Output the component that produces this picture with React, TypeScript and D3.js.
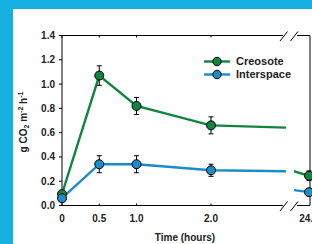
import React from "react";
import { scaleLinear, line } from "d3";

// time points (hours) and mean flux values
const times = [0, 0.5, 1.0, 2.0, 24];
const creosote = [0.095, 1.07, 0.82, 0.66, 0.245];
const creosoteErr = [0.02, 0.08, 0.07, 0.07, 0.04];
const interspace = [0.06, 0.34, 0.34, 0.29, 0.11];
const interspaceErr = [0.01, 0.07, 0.07, 0.05, 0.02];

const yTicks = [0, 0.2, 0.4, 0.6, 0.8, 1.0, 1.2, 1.4];
const xTicksLeft = [0, 0.5, 1.0, 2.0];
const xTickLabels = ["0", "0.5", "1.0", "2.0"];
const xTicksRight = [24];
const xTickLabelsRight = ["24.0"];

const series = [
  { name: "Creosote", values: creosote, err: creosoteErr, color: "#0f8540" },
  { name: "Interspace", values: interspace, err: interspaceErr, color: "#1b8cca" },
];

const W = 312;
const H = 244;
const FONT = "'Liberation Sans', Arial, sans-serif";

export default function App() {
  // y scale
  const y = scaleLinear().domain([0, 1.4]).range([205.5, 35.5]);
  // broken x axis: two panels
  const xL = scaleLinear().domain([0, 3]).range([62, 285.5]);
  const xR = scaleLinear().domain([22, 24]).range([294, 309]);

  const left = 62;
  const right = 310;
  const top = y(1.4);
  const bottom = y(0);

  const lineFor = (sx: any, vals: number[]) =>
    line<number>()
      .x((d, i) => sx(times[i]))
      .y((d) => y(d))(vals) || "";

  const panels = [
    { id: "clipL", sx: xL, x0: left, x1: 286, keep: (t: number) => t <= 3 },
    { id: "clipR", sx: xR, x0: 294, x1: W, keep: (t: number) => t >= 22 },
  ];

  return (
    <svg
      width={W}
      height={H}
      viewBox={`0 0 ${W} ${H}`}
      style={{ position: "absolute", left: 0, top: 0, fontFamily: FONT }}
    >
      <defs>
        {panels.map((p) => (
          <clipPath id={p.id} key={p.id}>
            <rect x={p.x0} y={0} width={p.x1 - p.x0} height={H} />
          </clipPath>
        ))}
      </defs>

      {/* frame background */}
      <rect x={0} y={0} width={W} height={H} fill="#16b1e1" />
      <rect x={13} y={9} width={W - 13} height={H - 9} fill="#ffffff" />

      {/* axes and frame with breaks */}
      <g stroke="#000" strokeWidth={1} fill="none">
        <line x1={left} y1={top} x2={left} y2={bottom} />
        <line x1={right} y1={top} x2={right} y2={bottom} />
        <line x1={left} y1={bottom} x2={283} y2={bottom} />
        <line x1={297} y1={bottom} x2={right} y2={bottom} />
        <line x1={left} y1={top} x2={283} y2={top} />
        <line x1={297} y1={top} x2={right} y2={top} />
        {[bottom, top].map((yy) => (
          <g key={yy}>
            <line x1={280} y1={yy + 5.5} x2={287.5} y2={yy - 4} />
            <line x1={290.5} y1={yy + 5.5} x2={298} y2={yy - 4} />
          </g>
        ))}
      </g>

      {/* y axis ticks */}
      <g>
        {yTicks.map((t) => (
          <g key={t}>
            <line x1={left - 3} x2={left} y1={y(t)} y2={y(t)} stroke="#000" />
            <text
              x={55}
              y={y(t)}
              dy="0.35em"
              textAnchor="end"
              fontSize={10}
              fontWeight="bold"
              fill="#222"
            >
              {t.toFixed(1)}
            </text>
          </g>
        ))}
      </g>

      {/* x axis ticks */}
      <g>
        {xTicksLeft.map((t, i) => (
          <g key={t}>
            <line x1={xL(t)} x2={xL(t)} y1={bottom} y2={bottom - 2} stroke="#000" />
            <line x1={xL(t)} x2={xL(t)} y1={top} y2={top + 2} stroke="#000" />
            <text x={xL(t)} y={222} textAnchor="middle" fontSize={10} fontWeight="bold" fill="#222">
              {xTickLabels[i]}
            </text>
          </g>
        ))}
        {xTicksRight.map((t, i) => (
          <text key={t} x={xR(t)} y={222} textAnchor="middle" fontSize={10} fontWeight="bold" fill="#222">
            {xTickLabelsRight[i]}
          </text>
        ))}
      </g>

      {/* axis titles */}
      <text x={185} y={241} textAnchor="middle" fontSize={10} fontWeight="bold" fill="#222">
        Time (hours)
      </text>
      <text
        transform={`translate(27,122) rotate(-90)`}
        textAnchor="middle"
        fontSize={10}
        fontWeight="bold"
        fill="#222"
      >
        g CO<tspan fontSize={7} dy={2}>2</tspan>
        <tspan dy={-2}> m</tspan>
        <tspan fontSize={7} dy={-4}>-2</tspan>
        <tspan dy={4}> h</tspan>
        <tspan fontSize={7} dy={-4}>-1</tspan>
      </text>

      {/* series lines, clipped per panel */}
      {panels.map((p) => (
        <g key={p.id} clipPath={`url(#${p.id})`}>
          {series.map((s) => (
            <path
              key={s.name}
              d={lineFor(p.sx, s.values)}
              fill="none"
              stroke={s.color}
              strokeWidth={2.4}
            />
          ))}
        </g>
      ))}

      {/* error bars and markers */}
      {panels.map((p) =>
        series.map((s) => (
          <g key={p.id + s.name}>
            {times.map((t, i) =>
              p.keep(t) ? (
                <g key={t}>
                  <g stroke="#000" strokeWidth={1}>
                    <line x1={p.sx(t)} x2={p.sx(t)} y1={y(s.values[i] + s.err[i])} y2={y(s.values[i] - s.err[i])} />
                    <line x1={p.sx(t) - 2.5} x2={p.sx(t) + 2.5} y1={y(s.values[i] + s.err[i])} y2={y(s.values[i] + s.err[i])} />
                    <line x1={p.sx(t) - 2.5} x2={p.sx(t) + 2.5} y1={y(s.values[i] - s.err[i])} y2={y(s.values[i] - s.err[i])} />
                  </g>
                  <circle cx={p.sx(t)} cy={y(s.values[i])} r={4.5} fill={s.color} stroke="#000" strokeWidth={1} />
                </g>
              ) : null
            )}
          </g>
        ))
      )}

      {/* legend */}
      <g>
        {series.map((s, i) => (
          <g key={s.name} transform={`translate(204, ${61.5 + i * 13})`}>
            <line x1={0} x2={26} y1={0} y2={0} stroke={s.color} strokeWidth={2.4} />
            <circle cx={13} cy={0} r={4.2} fill={s.color} stroke="#000" strokeWidth={1} />
            <text x={32} y={0} dy="0.35em" fontSize={11} fontWeight="bold" fill="#222">
              {s.name}
            </text>
          </g>
        ))}
      </g>
    </svg>
  );
}
